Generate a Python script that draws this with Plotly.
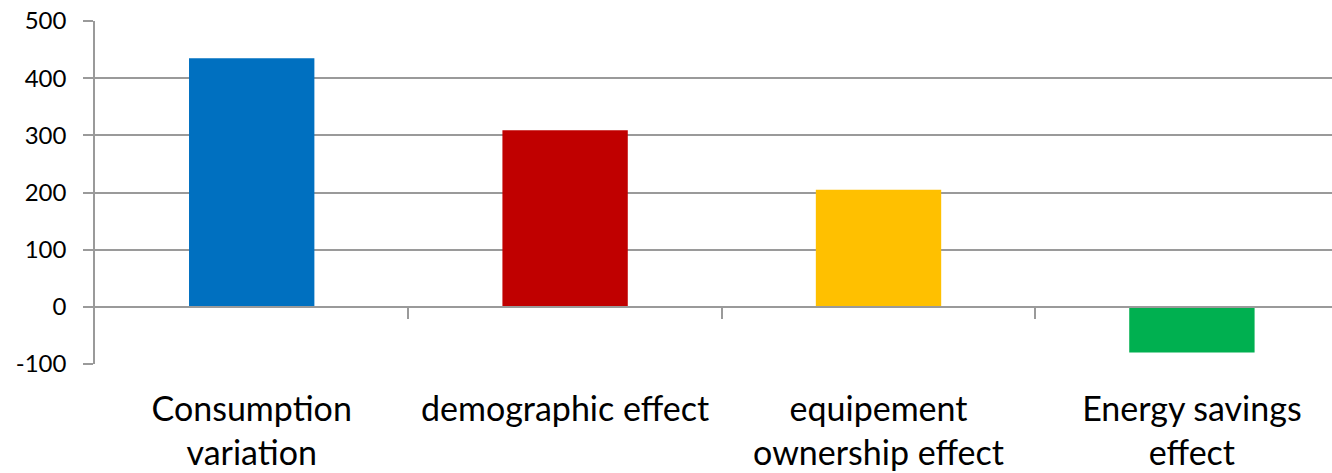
import plotly.graph_objects as go

# Decomposition of the consumption variation
categories = [
    "Consumption<br>variation",
    "demographic effect",
    "equipement<br>ownership effect",
    "Energy savings<br>effect",
]
values = [435, 309, 205, -80]
bar_colors = ["#0070C0", "#C00000", "#FFC000", "#00B050"]

y_min, y_max = -100, 500
y_ticks = [-100, 0, 100, 200, 300, 400, 500]
y_tick_text = ["-100", "0", "100", "200", "300", "400", "500"]
x_range = [-0.5, 3.447]

grid_color = "#9a9a9a"
font_family = "Lato, 'Open Sans', sans-serif"

fig = go.Figure()
fig.add_trace(go.Bar(
    x=categories,
    y=values,
    marker=dict(color=bar_colors, line=dict(width=0)),
    width=0.4,
    showlegend=False,
    hoverinfo="x+y",
))
# Empty trace so the axis drawn along y = 0 (category boundary ticks) is rendered
fig.add_trace(go.Scatter(x=[], y=[], xaxis="x2", yaxis="y", showlegend=False))

zero_pos = (0 - y_min) / (y_max - y_min)

fig.update_layout(
    width=1332,
    height=473,
    autosize=False,
    margin=dict(l=95, r=0, t=21, b=109, pad=0),
    paper_bgcolor="white",
    plot_bgcolor="white",
    font=dict(family=font_family, color="#000000"),
    bargap=0.6,
    xaxis=dict(
        type="category",
        range=x_range,
        showgrid=False,
        zeroline=False,
        showline=False,
        ticks="",
        tickfont=dict(size=34, color="#000000"),
        ticklabelstandoff=22,
        automargin=False,
    ),
    xaxis2=dict(
        overlaying="x",
        anchor="free",
        position=zero_pos,
        type="linear",
        range=x_range,
        tickmode="array",
        tickvals=[0.5, 1.5, 2.5],
        showticklabels=False,
        ticks="outside",
        ticklen=11,
        tickwidth=1.5,
        tickcolor=grid_color,
        showline=True,
        linecolor=grid_color,
        linewidth=1.5,
        showgrid=False,
        zeroline=False,
        automargin=False,
    ),
    yaxis=dict(
        range=[y_min, y_max],
        tickmode="array",
        tickvals=y_ticks,
        ticktext=y_tick_text,
        showgrid=True,
        gridcolor=grid_color,
        gridwidth=1.5,
        zeroline=False,
        showline=True,
        linecolor=grid_color,
        linewidth=1.5,
        ticks="outside",
        ticklen=10,
        tickwidth=1.5,
        tickcolor=grid_color,
        tickfont=dict(size=24, color="#000000"),
        ticklabelstandoff=12,
        automargin=False,
    ),
)

fig.write_html("out.html")
